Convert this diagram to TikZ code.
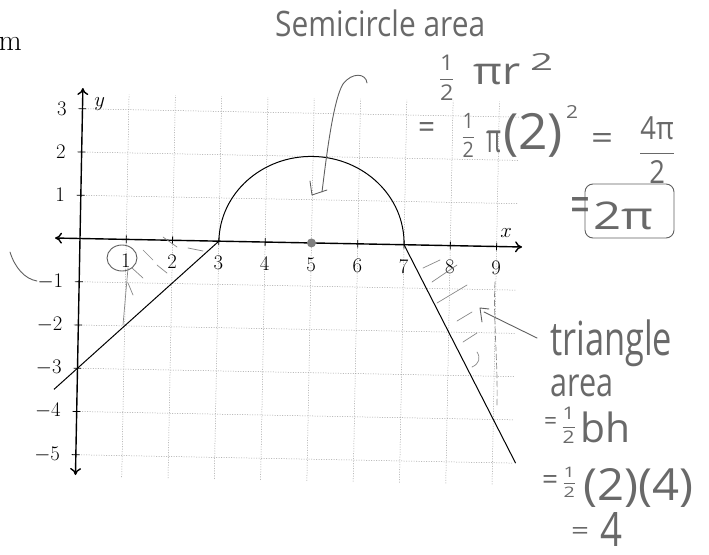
\documentclass[tikz,border=0pt]{standalone}
\usepackage{fontspec}
\usepackage{graphicx}
\usetikzlibrary{arrows.meta}
\newfontfamily\hand{Open Sans}
\definecolor{pencil}{RGB}{95,95,95}
\definecolor{penciltext}{RGB}{105,105,105}
\definecolor{gridc}{RGB}{150,150,150}
\newcommand{\hw}[3]{\resizebox*{#1pt}{#2pt}{\hand #3}}
\newcommand{\hfrac}[2]{$\displaystyle\frac{\mbox{#1}}{\mbox{#2}}$}
% name, x1, y1, width, height, text
\newcommand{\hwnode}[6]{\node[handtext] (#1) at (#2,#3) {\hw{#4}{#5}{#6}};}
\tikzset{
  gridline/.style={gridc, line width=0.5pt, dash pattern=on 1pt off 1.5pt},
  axisline/.style={line width=1.4pt, <->, >={Computer Modern Rightarrow[length=7pt,width=11pt]}},
  tickline/.style={line width=0.8pt},
  graphline/.style={line width=1pt},
  pencilline/.style={pencil, line width=0.9pt, line cap=round, line join=round},
  hatchline/.style={pencil!75, line width=0.7pt, line cap=round},
  handtext/.style={penciltext, inner sep=0pt, anchor=north west},
  ticklabel/.style={inner sep=0pt, font=\fontsize{21}{25}\selectfont},
}
\begin{document}
\begin{tikzpicture}[x=1pt,y=-1pt]
\useasboundingbox (0,0) rectangle (709,554);

% cut-off text at top left
\node[anchor=base east, inner sep=0pt, font=\fontsize{30}{36}\selectfont] (m) at (22,50) {m};

% ---------------- graph ----------------
\begin{scope}[shift={(80,238.5)}, rotate=-1.1, x=46.3pt, y=43.25pt]
  % grid
  \foreach \i in {1,...,9} \draw[gridline] (\i,-5.5) -- (\i,3.35);
  \foreach \j in {-5,-4,-3,-2,-1,1,2,3} \draw[gridline] (-0.1,\j) -- (9.45,\j);
  % axes
  \draw[axisline] (-0.54,0) -- (9.55,0);
  \draw[axisline] (0,-5.47) -- (0,3.48);
  \foreach \i in {1,...,9} \draw[tickline] (\i,-0.09) -- (\i,0.09);
  \foreach \j in {-5,-4,-3,-2,-1,1,2,3} \draw[tickline] (-0.08,\j) -- (0.08,\j);
  % tick labels
  \foreach \i in {1,...,9} \node[ticklabel] (xl\i) at (\i,-0.5) {$\i$};
  \foreach \j [count=\c] in {-5,-4,-3,-2,-1,1,2,3} \node[ticklabel, anchor=east] (yl\c) at (-0.34,\j) {$\j$};
  \node[ticklabel] (xlab) at (9.2,0.32) {$x$};
  \node[ticklabel] (ylab) at (0.37,3.12) {$y$};
  % function
  \draw[graphline] (-0.5,-3.5) -- (3,0) arc[start angle=180, end angle=0, radius=2] -- (9.5,-5);
  \fill[gray] (5,0) circle[radius=4.5pt];
\end{scope}

% ---------------- handwriting ----------------
\hwnode{t1}{275}{10}{210}{27}{Semicircle area}
% 1/2 pi r^2
\hwnode{t2a}{437}{55}{19}{45}{\hfrac{1}{2}}
\hwnode{t2b}{473}{64}{47}{21}{πr}
\hwnode{t2c}{530}{53}{23}{17}{2}
% = 1/2 pi (2)^2 = 4pi/2
\hwnode{t3a}{418}{122}{17}{16}{=}
\hwnode{t3b}{460}{113}{16}{44}{\hfrac{1}{2}}
\hwnode{t3c}{486}{131}{15}{22}{π}
\hwnode{t3d}{503}{113}{60}{44}{(2)}
\hwnode{t3e}{566}{105}{12}{13}{2}
\hwnode{t3f}{591}{133}{22}{16}{=}
\hwnode{t4}{637}{117}{40}{66}{\hfrac{4π}{2}}
% boxed result
\hwnode{t5a}{570}{197}{20}{26}{=}
\hwnode{t5}{593}{202}{60}{28}{2π}
\draw[pencilline, rounded corners=8pt] (585,184) rectangle (674,238);
% triangle area
\hwnode{t6}{550}{320}{122}{47}{triangle}
\hwnode{t7}{550}{375}{63}{22}{area}
\hwnode{t8a}{544}{417}{13}{12}{=}
\hwnode{t8b}{560}{407}{17}{36}{\hfrac{1}{2}}
\hwnode{t8c}{580}{412}{50}{31}{bh}
\hwnode{t9a}{542}{475}{16}{14}{=}
\hwnode{t9b}{561}{467}{16}{30}{\hfrac{1}{2}}
\hwnode{t9c}{583}{468}{110}{39}{(2)(4)}
\hwnode{t10a}{571}{527}{18}{12}{=}
\hwnode{t10b}{600}{512}{22}{34}{4}

% arrows
\coordinate (a1s) at (367,83);
\coordinate (a1e) at (322,192);
\draw[pencilline] (a1s) .. controls (366,73) and (352,72) .. (343,84) .. controls (333,100) and (326,160) .. (a1e);
\draw[pencilline] (310,181) -- (312,195) -- (327,190);
\coordinate (a2s) at (537,338);
\coordinate (a2e) at (484,312);
\draw[pencilline] (a2s) -- (a2e);
\draw[pencilline] (482,322) -- (480,308) -- (489,309);

% marks on the left
\draw[pencilline] (10,252) .. controls (15,268) and (25,279) .. (37,281);
\draw[pencilline] (122,258) ellipse[x radius=15pt, y radius=13pt];
\draw[hatchline] (128,268) -- (123,325);
\draw[hatchline] (132,268) -- (143,278);
\draw[hatchline] (128,283) -- (133,295);
\draw[hatchline] (143,250) -- (153,260);
\draw[hatchline] (157,265) -- (167,273);
\draw[hatchline] (163,237) -- (177,247);
\draw[hatchline] (188,248) -- (203,251);

% hatching on the right
\draw[hatchline] (423,268) -- (440,260);
\draw[hatchline] (432,282) -- (457,265);
\draw[hatchline] (437,303) -- (467,285);
\draw[hatchline] (457,321) -- (472,312);
\draw[hatchline] (463,342) -- (477,333);
\draw[hatchline] (477,352) .. controls (481,358) and (479,364) .. (472,367);
\draw[hatchline, dash pattern=on 6pt off 3pt] (495,282) .. controls (493,320) and (498,360) .. (497,405);
\end{tikzpicture}
\end{document}
